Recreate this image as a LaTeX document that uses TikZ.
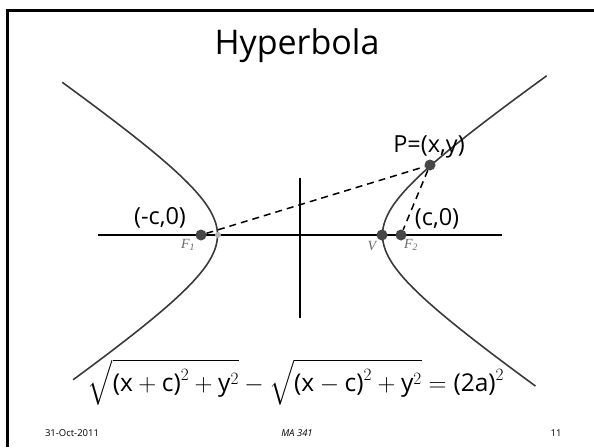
\documentclass[tikz,border=0pt]{standalone}
\usepackage{amsmath}
\usepackage{fontspec}
\setmainfont{Open Sans}
\newfontfamily\tnr{Liberation Serif}
\definecolor{dotgray}{HTML}{474747}
\definecolor{curvegray}{HTML}{3A3A3A}
\definecolor{labgray}{HTML}{6A6A6A}
\begin{document}
\begin{tikzpicture}[x=1pt,y=-1pt,
  dot/.style={circle,fill=dotgray,inner sep=0pt,minimum size=11pt},
  smalldot/.style={circle,fill=gray!60,inner sep=0pt,minimum size=6pt},
  curve/.style={curvegray,line width=1.6pt},
  axis/.style={black,line width=1.8pt},
  dashline/.style={black,line width=1.5pt,dash pattern=on 7pt off 5pt},
  lab/.style={inner sep=0pt,font=\fontsize{23.5}{26}\selectfont},
  flab/.style={inner sep=0pt,text=labgray,font=\tnr\itshape\fontsize{14}{16}\selectfont},
  foot/.style={inner sep=0pt,font=\fontsize{9.5}{11}\selectfont}]
\useasboundingbox (0,0) rectangle (594,447);
% frame
\draw[line width=3pt] (7,447) -- (7,10) -- (596,10);
% title
\node (title) at (297,46) {\fontsize{34}{40}\selectfont Hyperbola};
% axes
\coordinate (xl) at (98,235);
\coordinate (xr) at (502,235);
\coordinate (yt) at (300,178);
\coordinate (yb) at (300,318);
\draw[axis] (xl) -- (xr);
\draw[axis] (yt) -- (yb);
% hyperbola branches
\draw[curve] plot[domain=-1.67:1.72,samples=80,smooth,variable=\t] ({300-82.5*cosh(\t)},{235-56.5*sinh(\t)});
\draw[curve] plot[domain=-1.71:1.76,samples=80,smooth,variable=\t] ({300+82.5*cosh(\t)},{235-56.5*sinh(\t)});
% points
\node[smalldot] (V1) at (218,235) {};
\node[dot] (F1) at (201,235) {};
\node[dot] (V) at (382,235) {};
\node[dot] (F2) at (401,235) {};
\node[dot] (P) at (430,165) {};
% dashed connectors
\draw[dashline] (F1) -- (P);
\draw[dashline] (P) -- (F2);
% labels
\node[lab] (Plab) at (429,147) {P=(x,y)};
\node[lab] (F1lab) at (160,218) {(-c,0)};
\node[lab] (F2lab) at (437,219) {(c,0)};
\node[flab] (F1n) at (188,245) {F\textsubscript{\itshape 1}};
\node[flab] (F2n) at (411,245) {F\textsubscript{\itshape 2}};
\node[flab] (Vn) at (372,246) {V};
% formula
\node (eq) at (296,382) {\fontsize{24.5}{28}\selectfont
  $\sqrt{\text{(x}+\text{c)}^{2}+\text{y}^{2}}-\sqrt{\text{(x}-\text{c)}^{2}+\text{y}^{2}}=\text{(2a)}^{2}$};
% footer
\node[foot] (date) at (72,433) {31-Oct-2011};
\node[foot] (course) at (297,433) {\itshape MA 341};
\node[foot] (page) at (556,433) {11};
\end{tikzpicture}
\end{document}
